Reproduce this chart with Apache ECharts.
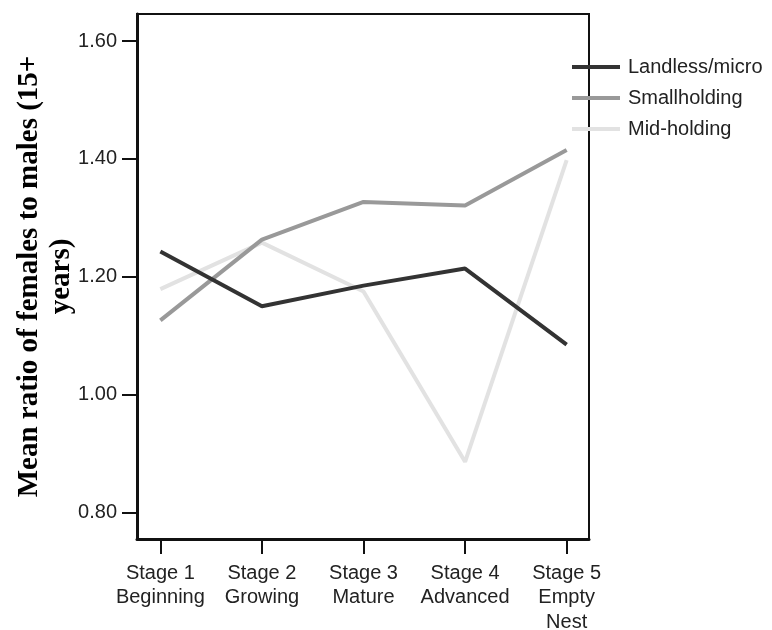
<!DOCTYPE html>
<html>
<head>
<meta charset="utf-8">
<script src="https://cdn.jsdelivr.net/npm/echarts@6.0.0/dist/echarts.min.js"></script>
<style>
html,body{margin:0;padding:0;background:#fff;}
#c{width:772px;height:630px;}
</style>
</head>
<body>
<div id="c"></div>
<script>
var categories = ["Stage 1\nBeginning", "Stage 2\nGrowing", "Stage 3\nMature", "Stage 4\nAdvanced", "Stage 5\nEmpty\nNest"];
var seriesNames = ["Landless/micro", "Smallholding", "Mid-holding"];
var landless = [1.243, 1.150, 1.185, 1.214, 1.085];
var smallholding = [1.126, 1.263, 1.327, 1.321, 1.415];
var midholding = [1.179, 1.258, 1.175, 0.886, 1.398];
var yTicks = [0.80, 1.00, 1.20, 1.40, 1.60];
var xTicks = [0, 1, 2, 3, 4];

function pts(arr){ return arr.map(function(v,i){ return [i, v]; }); }

var chart = echarts.init(document.getElementById('c'));
var txt = '#222222';
chart.setOption({
  animation: false,
  backgroundColor: '#ffffff',
  grid: {left: 137, top: 14, right: 183, bottom: 91, show: true, borderColor: '#111', borderWidth: 2,
         backgroundColor: 'transparent', containLabel: false, outerBoundsMode: 'none'},
  legend: {
    orient: 'vertical', left: 572, top: 57, padding: 0,
    icon: 'rect', itemWidth: 48, itemHeight: 4, itemGap: 11,
    data: seriesNames,
    textStyle: {fontFamily: 'Liberation Sans', fontSize: 20, lineHeight: 20, color: txt, padding: [0,0,0,3]}
  },
  xAxis: {
    type: 'value', min: -0.23, max: 4.22,
    splitLine: {show: false},
    axisLine: {show: true, onZero: false, lineStyle: {color: '#111', width: 3}},
    axisTick: {show: true, length: 15, customValues: xTicks, lineStyle: {color: '#111', width: 2}},
    axisLabel: {
      customValues: xTicks, margin: 22,
      formatter: function(v){ return categories[Math.round(v)]; },
      fontFamily: 'Liberation Sans', fontSize: 20, lineHeight: 24.5, color: txt
    }
  },
  yAxis: {
    type: 'value', min: 0.755, max: 1.646,
    splitLine: {show: false},
    axisLine: {show: true, onZero: false, lineStyle: {color: '#111', width: 3}},
    axisTick: {show: true, length: 15, customValues: yTicks, lineStyle: {color: '#111', width: 2}},
    axisLabel: {
      customValues: yTicks, margin: 20,
      formatter: function(v){ return v.toFixed(2); },
      fontFamily: 'Liberation Sans', fontSize: 20, color: txt
    },
    name: 'Mean ratio of females to males (15+\nyears)',
    nameLocation: 'middle', nameRotate: 90, nameGap: 59, nameMoveOverlap: false,
    nameTextStyle: {fontFamily: 'Liberation Serif', fontWeight: 'bold', fontSize: 29, lineHeight: 32, color: '#000', align: 'center'}
  },
  series: [
    {name: seriesNames[0], type: 'line', data: pts(landless), symbol: 'none', z: 5,
     lineStyle: {color: '#333333', width: 4}, itemStyle: {color: '#333333'}},
    {name: seriesNames[1], type: 'line', data: pts(smallholding), symbol: 'none', z: 4,
     lineStyle: {color: '#999999', width: 4}, itemStyle: {color: '#999999'}},
    {name: seriesNames[2], type: 'line', data: pts(midholding), symbol: 'none', z: 3,
     lineStyle: {color: '#e2e2e2', width: 4}, itemStyle: {color: '#e2e2e2'}}
  ]
});
</script>
</body>
</html>
